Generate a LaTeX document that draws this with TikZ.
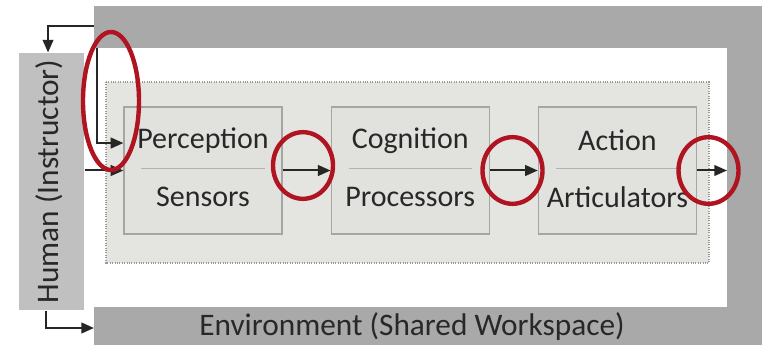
\documentclass[tikz,border=0pt]{standalone}
\usepackage{fontspec}
\setmainfont{Carlito}
\usetikzlibrary{arrows.meta,positioning}

\definecolor{envgray}{RGB}{169,169,169}
\definecolor{humgray}{RGB}{192,192,192}
\definecolor{boxfill}{RGB}{225,225,222}
\definecolor{boxline}{RGB}{165,165,162}
\definecolor{sepline}{RGB}{178,178,175}
\definecolor{txtgray}{RGB}{40,40,40}
\definecolor{ringred}{RGB}{176,20,32}

\begin{document}
\begin{tikzpicture}[x=0.75pt,y=-0.75pt,line width=0.8pt,node distance=36pt,
	blk/.style={draw=boxline, fill=boxfill, line width=0.9pt, minimum width=118.5pt, minimum height=95.25pt, inner sep=0pt},
	lbl/.style={font=\fontsize{22.5}{26}\selectfont, text=txtgray, inner sep=0pt},
	flow/.style={draw=black!85, line width=1.5pt, -{Triangle[length=9.5pt,width=8pt]}},
	sepbar/.style={draw=sepline, line width=1.1pt},
	ring/.style={draw=ringred, line width=3.3pt}]
	
	\useasboundingbox (0,0) rectangle (762,345);
	
	% environment frame
	\fill[envgray] (94,6) rectangle (762,345);
	\fill[white] (94,48) rectangle (727,307);
	\node[lbl, font=\fontsize{23.5}{26}\selectfont] (env) at (412,327) {Environment (Shared Workspace)};
	
	% agent container
	\draw[densely dotted, draw=black!40, fill=boxfill!90!white] (106,82) rectangle (709,263);
	
	% human
	\node[fill=humgray, minimum width=48.75pt, minimum height=192.75pt, inner sep=0pt] (human) at (51.5,181.5) {};
	\node[lbl, rotate=90, font=\fontsize{23.5}{26}\selectfont] at ([xshift=-1.5pt]human.center) {Human (Instructor)};
	
	% blocks
	\node[blk] (perc) at (203,170.5) {};
	\node[blk, right=of perc] (cogn) {};
	\node[blk, right=of cogn] (actn) {};
	
	\node[lbl] at ([yshift=22.5pt]perc.center) {Perception};
	\node[lbl] at ([yshift=-20pt]perc.center) {Sensors};
	\node[lbl] at ([yshift=22.5pt]cogn.center) {Cognition};
	\node[lbl] at ([yshift=-20pt]cogn.center) {Processors};
	\node[lbl] at ([yshift=22.5pt]actn.center) {Action};
	\node[lbl] at ([yshift=-20pt]actn.center) {Articulators};
	
	\draw[sepbar] ([xshift=13.5pt,yshift=1.5pt]perc.west) -- ([xshift=-13.5pt,yshift=1.5pt]perc.east);
	\draw[sepbar] ([xshift=13.5pt,yshift=1.5pt]cogn.west) -- ([xshift=-13.5pt,yshift=1.5pt]cogn.east);
	\draw[sepbar] ([xshift=13.5pt,yshift=1.5pt]actn.west) -- ([xshift=-13.5pt,yshift=1.5pt]actn.east);
	
	% connectors
	\coordinate (envtop) at (94,26);
	\coordinate (envin) at (97,48);
	\coordinate (envbot) at (94,328);
	\coordinate (exit) at (727,170.5);
	
	\draw[flow] (envtop) -| ([xshift=-2.6pt]human.north);
	\draw[flow] (envin) |- ([yshift=20.6pt]perc.west);
	\draw[flow] (human.east |- perc.west) -- (perc.west);
	\draw[flow] (perc) -- (cogn);
	\draw[flow] (cogn) -- (actn);
	\draw[flow] (actn) -- (exit);
	\draw[flow] ([xshift=-4.1pt]human.south) |- (envbot);
	
	% red rings
	\draw[ring] (111,101) ellipse [x radius=21pt, y radius=51.75pt];
	\draw[ring] (303,165.5) ellipse [x radius=22.5pt, y radius=25pt];
	\draw[ring] (512.5,170.5) ellipse [x radius=22.5pt, y radius=25pt];
	\draw[ring] (708.5,170.5) ellipse [x radius=22.5pt, y radius=25pt];
	
\end{tikzpicture}
\end{document}
